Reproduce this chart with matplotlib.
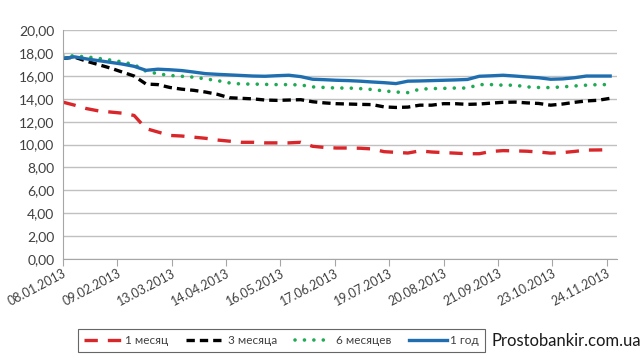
import numpy as np
import matplotlib
matplotlib.use("Agg")
import matplotlib.pyplot as plt
import matplotlib.dates as mdates

plt.rcParams["font.family"] = ["Lato", "DejaVu Sans"]

# weekly dates, starting 08.01.2013
start = np.datetime64("2013-01-08")
dates = start + np.arange(47) * np.timedelta64(7, "D")

m1 = [13.72, 13.45, 13.15, 12.95, 12.85, 12.75, 12.55, 11.4, 11.1, 10.8,
      10.75, 10.65, 10.55, 10.4, 10.3, 10.2, 10.2, 10.15, 10.15, 10.15,
      10.2, 9.85, 9.75, 9.7, 9.7, 9.68, 9.62, 9.38, 9.32, 9.26,
      9.45, 9.35, 9.3, 9.25, 9.2, 9.2, 9.4, 9.47, 9.45, 9.42,
      9.35, 9.25, 9.3, 9.4, 9.52, 9.53, 9.55]
m3 = [17.54, 17.65, 17.3, 17.0, 16.7, 16.35, 16.0, 15.3, 15.25, 15.0,
      14.85, 14.75, 14.6, 14.4, 14.1, 14.05, 14.0, 13.9, 13.87, 13.9,
      13.93, 13.75, 13.65, 13.58, 13.55, 13.52, 13.5, 13.3, 13.25, 13.28,
      13.45, 13.45, 13.58, 13.58, 13.52, 13.55, 13.63, 13.7, 13.72, 13.65,
      13.6, 13.45, 13.55, 13.7, 13.82, 13.88, 14.05]
m6 = [17.83, 17.75, 17.68, 17.55, 17.4, 17.24, 17.0, 16.42, 16.2, 16.05,
      15.98, 15.9, 15.75, 15.6, 15.4, 15.3, 15.3, 15.27, 15.25, 15.25,
      15.22, 15.05, 15.0, 14.95, 14.95, 14.9, 14.82, 14.7, 14.6, 14.55,
      14.85, 14.9, 14.92, 14.95, 14.95, 15.25, 15.25, 15.2, 15.2, 15.05,
      15.0, 14.99, 15.05, 15.13, 15.2, 15.25, 15.25]
y1 = [17.54, 17.68, 17.5, 17.35, 17.2, 17.05, 16.85, 16.5, 16.6, 16.55,
      16.48, 16.35, 16.21, 16.15, 16.1, 16.05, 16.0, 15.98, 16.03, 16.07,
      15.95, 15.72, 15.68, 15.63, 15.6, 15.55, 15.48, 15.42, 15.34, 15.55,
      15.57, 15.6, 15.63, 15.66, 15.7, 15.98, 16.02, 16.07, 16.0, 15.92,
      15.85, 15.72, 15.75, 15.85, 16.0, 16.0, 16.0]

fig = plt.figure(figsize=(6.4, 3.57), dpi=100)
ax = fig.add_axes([0.098, 0.275, 0.866, 0.64])

ax.plot(dates, m1, color="#d9262a", lw=2.4, dashes=(4, 3), label="1 месяц")
ax.plot(dates, m3, color="#000000", lw=2.4, dashes=(2.5, 1.5), label="3 месяца")
ax.plot(dates, m6, color="#1faa55", lw=2.6, linestyle=(0, (0.01, 2.6)),
        dash_capstyle="round", label="6 месяцев")
ax.plot(dates, y1, color="#1f6fb0", lw=2.4, label="1 год")

ax.set_ylim(0, 20)
ax.set_yticks(np.arange(0, 21, 2))
ax.yaxis.set_major_formatter(plt.FuncFormatter(lambda v, p: f"{v:.2f}".replace(".", ",")))
ax.set_xlim(start, np.datetime64("2013-11-30"))
xt = start + np.arange(11) * np.timedelta64(32, "D")
ax.set_xticks(xt)
ax.xaxis.set_major_formatter(mdates.DateFormatter("%d.%m.%Y"))

ax.grid(axis="y", color="#c0c0c0", lw=1)
ax.set_axisbelow(True)
for s in ["top", "right"]:
    ax.spines[s].set_visible(False)
for s in ["left", "bottom"]:
    ax.spines[s].set_color("#a6a6a6")
ax.tick_params(axis="y", length=0, labelsize=10, colors="#404040", pad=6)
ax.tick_params(axis="x", length=5, color="#a6a6a6", labelsize=9, labelcolor="#404040", pad=1)
for lab in ax.get_xticklabels():
    lab.set_rotation(28)
    lab.set_ha("right")
    lab.set_rotation_mode("anchor")

leg = fig.legend(loc="center left", bbox_to_anchor=(0.113, 0.047), ncol=4,
                 fontsize=8.5, frameon=True, fancybox=False, handlelength=3.2,
                 handletextpad=0.3, columnspacing=1.5, borderpad=0.5)
leg.get_frame().set_edgecolor("#404040")
leg.get_frame().set_linewidth(0.8)
for t in leg.get_texts():
    t.set_color("#404040")

fig.text(0.768, 0.03, "Prostobankir.com.ua", fontsize=12, color="#1a1a1a")

fig.savefig("out.png", dpi=100)
